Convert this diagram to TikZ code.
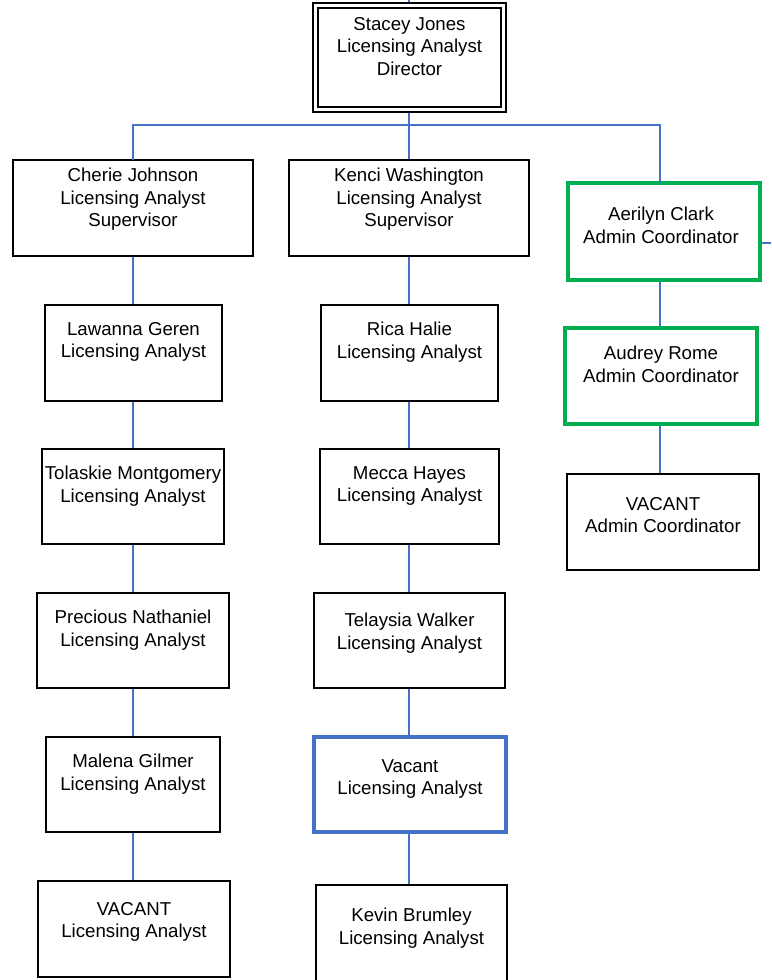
\documentclass[tikz,border=0pt]{standalone}
\usepackage{fontspec}
\setmainfont{Liberation Sans}
\usetikzlibrary{fit}
\definecolor{lineblue}{HTML}{4472C4}
\definecolor{boxgreen}{HTML}{00B050}
\tikzset{
  box/.style={draw=black, line width=1.5pt, rectangle, inner sep=0pt},
  greenbox/.style={draw=boxgreen, line width=2.3pt, rectangle, inner sep=0pt},
  bluebox/.style={draw=lineblue, line width=2.3pt, rectangle, inner sep=0pt},
  outerbox/.style={draw=black, line width=2.2pt, rectangle, inner sep=0pt},
  innerbox/.style={draw=black, line width=1.6pt, rectangle, inner sep=0pt},
  txt/.style={anchor=north, align=center, inner sep=0pt, font=\fontsize{14}{16.9}\selectfont},
  conn/.style={draw=lineblue, line width=1.1pt}
}
\begin{document}
\begin{tikzpicture}[x=0.75pt, y=-0.75pt]
\clip (0,0) rectangle (771,980);
\fill[white] (0,0) rectangle (771,980);
% top box
\node[outerbox, fit={(313,3) (506,112)}] (top) {};
\node[innerbox, fit={(318,8) (501,107)}] (topin) {};
\node[txt] (topt) at (409.5,17) {Stacey Jones\\Licensing Analyst\\Director};
\coordinate (upend) at (409,0);
\coordinate (bus) at (409,125);
\coordinate (stub) at (771,243);
% level 2
\node[box, fit={(13,160) (253,256)}] (cj) {};
\node[txt] (cjt) at (cj.north |- 0,168) {Cherie Johnson\\Licensing Analyst\\Supervisor};
\node[box, fit={(289,160) (529,256)}] (kw) {};
\node[txt] (kwt) at (kw.north |- 0,168) {Kenci Washington\\Licensing Analyst\\Supervisor};
\node[greenbox, fit={(568,183) (760,280)}] (ac) {};
\node[txt] (act) at (661,207) {Aerilyn Clark\\Admin Coordinator};
% left column
\node[box, fit={(45,305) (222,401)}] (lg) {};
\node[txt] (lgt) at (lg.north |- 0,322) {Lawanna Geren\\Licensing Analyst};
\node[box, fit={(42,449) (224,544)}] (tm) {};
\node[txt] (tmt) at (tm.north |- 0,466) {Tolaskie Montgomery\\Licensing Analyst};
\node[box, fit={(37,593) (229,688)}] (pn) {};
\node[txt] (pnt) at (pn.north |- 0,610) {Precious Nathaniel\\Licensing Analyst};
\node[box, fit={(46,737) (220,832)}] (mg) {};
\node[txt] (mgt) at (mg.north |- 0,754) {Malena Gilmer\\Licensing Analyst};
\node[box, fit={(38,881) (230,977)}] (vl) {};
\node[txt] (vlt) at (vl.north |- 0,902) {VACANT\\Licensing Analyst};
% middle column
\node[box, fit={(321,305) (498,401)}] (rh) {};
\node[txt] (rht) at (rh.north |- 0,322) {Rica Halie\\Licensing Analyst};
\node[box, fit={(320,449) (499,544)}] (mh) {};
\node[txt] (mht) at (mh.north |- 0,466) {Mecca Hayes\\Licensing Analyst};
\node[box, fit={(314,593) (505,688)}] (tw) {};
\node[txt] (twt) at (tw.north |- 0,613) {Telaysia Walker\\Licensing Analyst};
\node[bluebox, fit={(314,737) (506,832)}] (vc) {};
\node[txt] (vct) at (vc.north |- 0,759) {Vacant\\Licensing Analyst};
\node[box, fit={(316,885) (507,1000)}] (kb) {};
\node[txt] (kbt) at (kb.north |- 0,908) {Kevin Brumley\\Licensing Analyst};
% right column
\node[greenbox, fit={(565,328) (757,424)}] (ar) {};
\node[txt] (art) at (ar.north |- 0,346) {Audrey Rome\\Admin Coordinator};
\node[box, fit={(567,474) (759,570)}] (va) {};
\node[txt] (vat) at (va.north |- 0,497) {VACANT\\Admin Coordinator};
% connectors
\draw[conn] (upend) -- (upend |- top.north);
\draw[conn] (top.south -| bus) -- (bus);
\draw[conn] (133,160) coordinate (cjtop) |- (bus) -| (660,183) coordinate (actop);
\draw[conn] (bus) -- (bus |- kw.north);
\draw[conn] (stub -| ac.east) -- (stub);
\draw[conn] (cj.south -| cjtop) -- (cjtop |- lg.north);
\draw[conn] (lg.south -| cjtop) -- (cjtop |- tm.north);
\draw[conn] (tm.south -| cjtop) -- (cjtop |- pn.north);
\draw[conn] (pn.south -| cjtop) -- (cjtop |- mg.north);
\draw[conn] (mg.south -| cjtop) -- (cjtop |- vl.north);
\draw[conn] (kw.south -| bus) -- (bus |- rh.north);
\draw[conn] (rh.south -| bus) -- (bus |- mh.north);
\draw[conn] (mh.south -| bus) -- (bus |- tw.north);
\draw[conn] (tw.south -| bus) -- (bus |- vc.north);
\draw[conn] (vc.south -| bus) -- (bus |- kb.north);
\draw[conn] (ac.south -| actop) -- (actop |- ar.north);
\draw[conn] (ar.south -| actop) -- (actop |- va.north);
\end{tikzpicture}
\end{document}
